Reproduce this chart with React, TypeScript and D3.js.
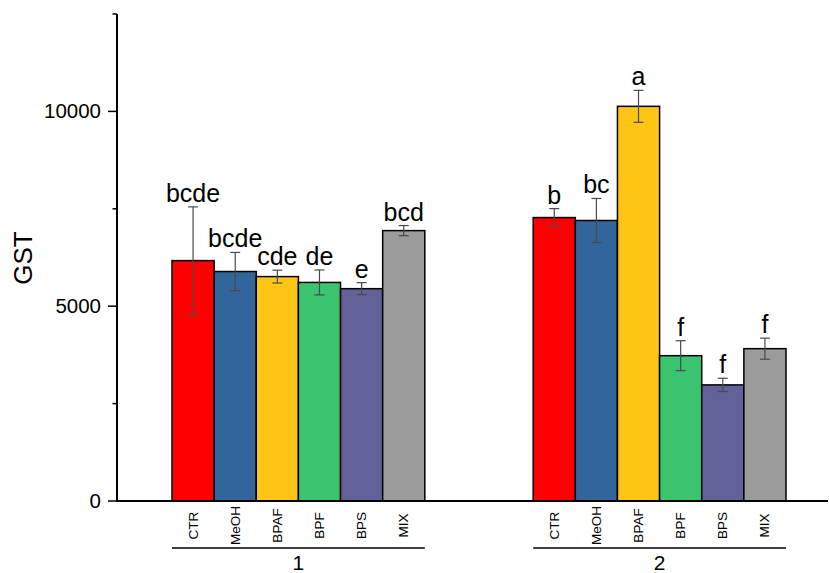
import React from "react";
import * as d3 from "d3";

const groups = ["1", "2"];
const categories = ["CTR", "MeOH", "BPAF", "BPF", "BPS", "MIX"];
const colors = ["#ff0000", "#31659c", "#ffc514", "#3bc46f", "#626199", "#9b9b9b"];
const means1 = [6170, 5890, 5760, 5610, 5450, 6940];
const errs1 = [1380, 490, 165, 320, 155, 130];
const means2 = [7275, 7200, 10130, 3730, 2980, 3910];
const errs2 = [230, 565, 410, 385, 170, 270];
const letters1 = ["bcde", "bcde", "cde", "de", "e", "bcd"];
const letters2 = ["b", "bc", "a", "f", "f", "f"];
const majorTicks = [0, 5000, 10000];
const minorTicks = [2500, 7500, 12500];

const W = 829;
const H = 573;

export default function App() {
  const y = d3.scaleLinear().domain([0, 12500]).range([501, 14]);
  const x0 = d3.scaleBand().domain(groups).range([172, 786]).paddingInner(0.3).paddingOuter(0);
  const x1 = d3.scaleBand().domain(categories).range([0, x0.bandwidth()]).padding(0);
  const data = [
    { g: "1", means: means1, errs: errs1, letters: letters1 },
    { g: "2", means: means2, errs: errs2, letters: letters2 },
  ];
  const font = "'Liberation Sans', Arial, sans-serif";
  const axisX = 117;
  const axisY = y(0);
  return (
    <svg width={W} height={H} style={{ position: "absolute", left: 0, top: 0, display: "block" }} fontFamily={font}>
      <rect width={W} height={H} fill="#fff" />
      {data.map((grp) => {
        const gx = x0(grp.g)!;
        return (
          <g key={grp.g}>
            {categories.map((c, i) => {
              const bx = gx + x1(c)!;
              const bw = x1.bandwidth();
              const cx = bx + bw / 2;
              const m = grp.means[i];
              const e = grp.errs[i];
              return (
                <g key={c}>
                  <rect x={bx} y={y(m)} width={bw} height={y(0) - y(m)} fill={colors[i]} stroke="#000" strokeWidth={1.5} />
                  <line x1={cx} x2={cx} y1={y(m + e)} y2={y(m - e)} stroke="#4a4a4a" strokeWidth={1.2} />
                  <line x1={cx - 5} x2={cx + 5} y1={y(m + e)} y2={y(m + e)} stroke="#4a4a4a" strokeWidth={1.2} />
                  <line x1={cx - 5} x2={cx + 5} y1={y(m - e)} y2={y(m - e)} stroke="#4a4a4a" strokeWidth={1.2} />
                  <text x={cx} y={y(m + e) - 5} textAnchor="middle" fontSize={25} fill="#000">
                    {grp.letters[i]}
                  </text>
                  <text
                    transform={`translate(${cx + 4.5},${525.5}) rotate(-90)`}
                    textAnchor="middle"
                    fontSize={13.5}
                    fill="#000"
                  >
                    {c}
                  </text>
                </g>
              );
            })}
            <line x1={gx} x2={gx + x0.bandwidth()} y1={548} y2={548} stroke="#000" strokeWidth={1.5} />
            <text x={gx + x0.bandwidth() / 2} y={570} textAnchor="middle" fontSize={21} fill="#000">
              {grp.g}
            </text>
          </g>
        );
      })}
      <line x1={axisX} x2={828} y1={axisY} y2={axisY} stroke="#000" strokeWidth={2} />
      <line x1={axisX} x2={axisX} y1={y(12500)} y2={axisY + 1} stroke="#000" strokeWidth={2} />
      {majorTicks.map((t) => (
        <g key={t}>
          <line x1={axisX - 9} x2={axisX} y1={y(t)} y2={y(t)} stroke="#000" strokeWidth={1.5} />
          <text x={axisX - 16} y={y(t) + 7} textAnchor="end" fontSize={20.5} fill="#000">
            {t}
          </text>
        </g>
      ))}
      {minorTicks.map((t) => (
        <line key={t} x1={axisX - 4.5} x2={axisX} y1={y(t)} y2={y(t)} stroke="#000" strokeWidth={1.5} />
      ))}
      <text transform={`translate(32,258) rotate(-90)`} textAnchor="middle" fontSize={26} fill="#000">
        GST
      </text>
    </svg>
  );
}
